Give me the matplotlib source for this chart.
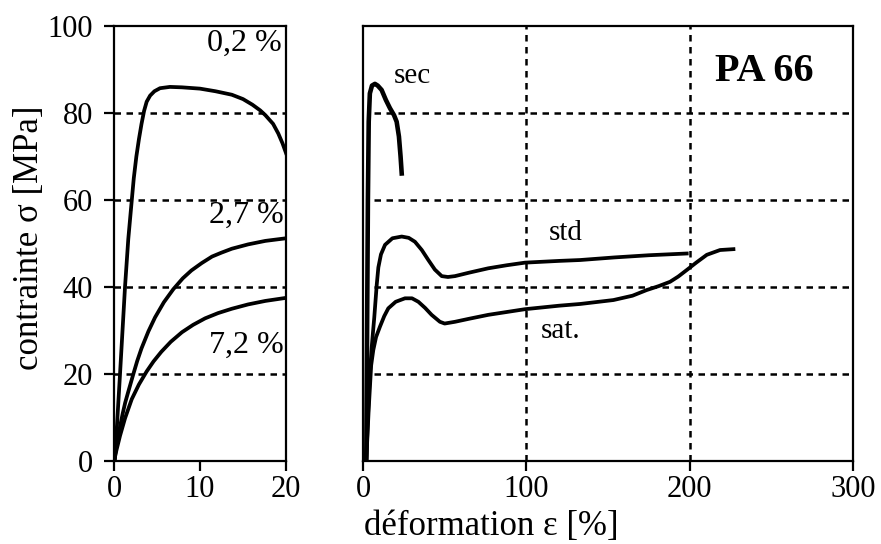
import numpy as np
import matplotlib
matplotlib.use("Agg")
import matplotlib.pyplot as plt

plt.rcParams['font.family'] = ['Liberation Serif', 'DejaVu Serif']
plt.rcParams['font.size'] = 22

# left panel: strain (%) / stress (MPa), water content curves
x_02 = [0.1, 0.7, 1.28, 1.66, 2.0, 2.3, 2.6, 2.9, 3.2, 3.5, 3.8, 4.2, 4.7, 5.35, 6.5, 7.9, 10.0, 11.8, 13.7, 15.0, 16.1, 17.0, 17.6, 18.5, 19.1, 19.6, 20.0]
y_02 = [0.0, 20.0, 40.0, 51.0, 58.5, 65.0, 70.0, 74.0, 77.5, 80.5, 82.6, 84.0, 85.0, 85.7, 86.0, 85.9, 85.6, 85.0, 84.2, 83.2, 81.9, 80.6, 79.5, 77.5, 75.3, 73.0, 70.8]

x_27 = [0.0, 0.3, 0.6, 1.0, 1.3, 1.67, 2.25, 2.7, 3.2, 4.0, 4.77, 5.8, 6.9, 8.0, 9.0, 10.2, 11.4, 12.5, 13.7, 15.6, 17.6, 20.0]
y_27 = [0.0, 3.6, 6.9, 10.8, 13.4, 16.0, 20.0, 23.0, 25.9, 29.8, 33.0, 36.5, 39.5, 42.0, 43.8, 45.5, 47.0, 47.9, 48.8, 49.8, 50.6, 51.2]

x_72 = [0.0, 0.3, 0.7, 1.28, 2.06, 2.9, 3.8, 4.6, 5.5, 6.6, 7.9, 9.2, 10.6, 12.1, 13.7, 15.6, 17.6, 20.0]
y_72 = [0.0, 2.6, 5.8, 9.8, 14.2, 17.6, 20.6, 22.9, 25.1, 27.4, 29.6, 31.3, 32.8, 34.0, 35.0, 36.0, 36.8, 37.5]

# right panel: dry / standard / saturated
x_sec = [2.0, 2.5, 3.0, 3.5, 4.2, 5.5, 7.3, 9.0, 11.4, 14.0, 16.5, 19.0, 20.6, 22.0, 23.0, 23.7]
y_sec = [0.0, 30.0, 60.0, 78.0, 84.5, 86.3, 86.7, 86.3, 85.3, 83.0, 81.1, 79.5, 78.0, 74.6, 70.0, 66.1]

x_std = [2.0, 3.0, 4.2, 5.3, 6.2, 6.9, 7.7, 8.4, 9.4, 11.0, 13.5, 18.0, 23.7, 28.0, 31.8, 36.0, 40.0, 44.0, 48.2, 52.0, 56.3, 65.0, 76.7, 88.0, 99.2, 120.0, 132.9, 154.0, 175.0, 198.2]
y_std = [0.0, 10.0, 20.0, 26.0, 30.0, 33.0, 37.0, 40.5, 44.5, 47.5, 49.7, 51.2, 51.6, 51.3, 50.4, 48.5, 46.2, 44.0, 42.5, 42.3, 42.5, 43.3, 44.3, 45.0, 45.6, 46.0, 46.2, 46.8, 47.3, 47.7]

x_sat = [2.0, 3.5, 5.0, 6.3, 8.0, 10.4, 13.0, 15.5, 20.0, 25.7, 30.0, 33.9, 38.0, 42.0, 47.1, 50.0, 56.3, 65.0, 76.7, 99.2, 120.0, 133.0, 153.3, 165.0, 173.7, 181.0, 188.0, 193.0, 198.2, 204.0, 210.5, 218.6, 226.8]
y_sat = [0.0, 12.0, 22.0, 25.5, 28.5, 30.9, 33.3, 35.1, 36.6, 37.4, 37.4, 36.6, 35.2, 33.6, 32.0, 31.6, 32.0, 32.7, 33.6, 34.9, 35.7, 36.1, 37.0, 38.0, 39.3, 40.2, 41.2, 42.4, 43.9, 45.6, 47.4, 48.5, 48.7]

y_ticks = [0, 20, 40, 60, 80, 100]
grid_y = [20, 40, 60, 80]

fig = plt.figure(figsize=(8.81, 5.44), dpi=100)
ax1 = fig.add_axes([114/881, 1-461/544, 172/881, 435/544])
ax2 = fig.add_axes([363/881, 1-461/544, 490/881, 435/544])

dash = (0, (2.6, 2.2))
lw_curve = 2.7

# left panel
for yy in grid_y:
    ax1.axhline(yy, color='black', lw=1.8, ls=dash, zorder=1)
ax1.plot(x_02, y_02, color='black', lw=lw_curve, solid_joinstyle='round')
ax1.plot(x_27, y_27, color='black', lw=lw_curve, solid_joinstyle='round')
ax1.plot(x_72, y_72, color='black', lw=lw_curve, solid_joinstyle='round')
ax1.set_xlim(0, 20)
ax1.set_ylim(0, 100)
ax1.set_xticks([0, 10, 20])
ax1.set_yticks(y_ticks)
ax1.text(15.2, 96.0, "0,2 %", ha='center', va='center', fontsize=23)
ax1.text(15.4, 56.5, "2,7 %", ha='center', va='center', fontsize=23)
ax1.text(15.4, 26.7, "7,2 %", ha='center', va='center', fontsize=23)

# right panel
for yy in grid_y:
    ax2.axhline(yy, xmin=7/300, color='black', lw=1.8, ls=dash, zorder=1)
for xx in [100, 200]:
    ax2.axvline(xx, color='black', lw=1.8, ls=dash, zorder=1)
ax2.plot(x_sec, y_sec, color='black', lw=lw_curve + 0.6, solid_joinstyle='round')
ax2.plot(x_std, y_std, color='black', lw=lw_curve, solid_joinstyle='round')
ax2.plot(x_sat, y_sat, color='black', lw=lw_curve, solid_joinstyle='round')
ax2.set_xlim(0, 300)
ax2.set_ylim(0, 100)
ax2.set_xticks([0, 100, 200, 300])
ax2.set_yticks([])
ax2.text(30, 88.5, "sec", ha='center', va='center', fontsize=21)
ax2.text(124, 52.5, "std", ha='center', va='center', fontsize=21)
ax2.text(121, 30.0, "sat.", ha='center', va='center', fontsize=21)
ax2.text(246, 89.5, "PA 66", ha='center', va='center', fontsize=29, fontweight='bold')

for ax in (ax1, ax2):
    for sp in ax.spines.values():
        sp.set_linewidth(1.6)
    ax.tick_params(direction='out', length=7, width=1.6, labelsize=22)
    ax.tick_params(axis='x', pad=3)
    ax.tick_params(axis='y', pad=8)

fig.text(30/881, 1-238/544, "contrainte σ [MPa]", rotation=90, ha='center', va='center', fontsize=25)
fig.text(491/881, 1-527/544, "déformation ε [%]", ha='center', va='center', fontsize=25)

fig.savefig("out.png", dpi=100)
